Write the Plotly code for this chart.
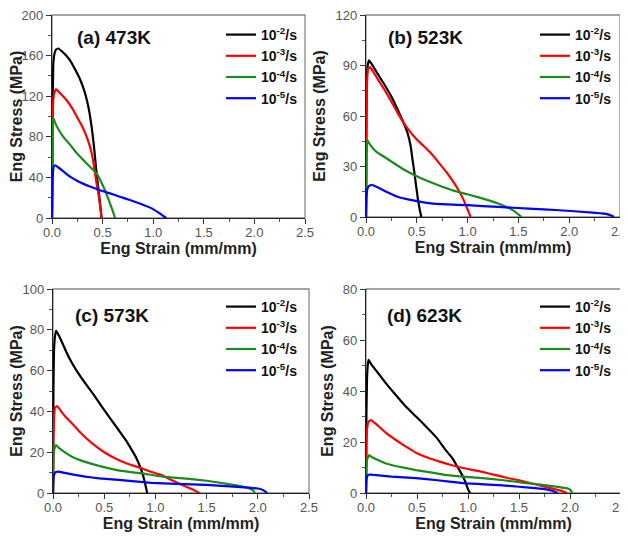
import plotly.graph_objects as go

# ---------------- data ----------------
rates = ["10<sup>-2</sup>/s", "10<sup>-3</sup>/s", "10<sup>-4</sup>/s", "10<sup>-5</sup>/s"]
colors = ["#000000", "#ff0000", "#1a8c1a", "#0000ff"]

# (a) 473K
a_x1 = [0, 0.005, 0.012, 0.025, 0.04, 0.063, 0.1, 0.14, 0.18, 0.23, 0.28, 0.32, 0.345, 0.37, 0.39, 0.41, 0.425, 0.44, 0.455, 0.468, 0.48, 0.49]
a_y1 = [0, 90, 150, 162, 166, 167, 164, 160, 155, 146, 136, 125, 116, 104, 91, 75, 60, 44, 32, 21, 10, 0]
a_x2 = [0, 0.005, 0.012, 0.025, 0.04, 0.07, 0.1, 0.145, 0.2, 0.245, 0.3, 0.343, 0.37, 0.392, 0.41, 0.425, 0.44, 0.458, 0.475, 0.49]
a_y2 = [0, 80, 115, 124, 127, 124, 121, 116, 108, 100, 90, 80, 72, 64, 54, 44, 34, 24, 12, 0]
a_x3 = [0, 0.004, 0.008, 0.013, 0.03, 0.06, 0.112, 0.18, 0.244, 0.31, 0.375, 0.44, 0.507, 0.54, 0.573, 0.6, 0.623]
a_y3 = [0, 70, 92, 99, 94, 88, 80, 72, 64, 57, 50.5, 44, 31, 23, 14.5, 7, 0]
a_x4 = [0, 0.005, 0.015, 0.03, 0.06, 0.1, 0.178, 0.27, 0.375, 0.47, 0.573, 0.67, 0.77, 0.88, 0.985, 1.05, 1.1, 1.13]
a_y4 = [0, 35, 50, 52, 50, 47, 40.7, 35.5, 31, 27.5, 24.3, 21, 17.7, 13.8, 9.5, 5.5, 2, 0]

# (b) 523K
b_x1 = [0, 0.004, 0.01, 0.02, 0.03, 0.06, 0.1, 0.178, 0.25, 0.31, 0.37, 0.41, 0.44, 0.458, 0.475, 0.49, 0.51, 0.53, 0.545]
b_y1 = [0, 60, 85, 91, 93, 90.5, 86.5, 79, 71.5, 64, 56, 49.7, 42, 34, 27, 20, 11, 4, 0]
b_x2 = [0, 0.004, 0.01, 0.02, 0.04, 0.08, 0.12, 0.178, 0.24, 0.31, 0.36, 0.41, 0.5, 0.57, 0.64, 0.72, 0.8, 0.87, 0.91, 0.95, 0.99, 1.03]
b_y2 = [0, 50, 80, 88, 89, 85.5, 81.5, 76, 69.5, 62, 57, 52.5, 46, 42, 37.8, 32, 26, 20, 16, 11.5, 6, 0]
b_x3 = [0, 0.004, 0.008, 0.015, 0.04, 0.08, 0.12, 0.178, 0.26, 0.35, 0.474, 0.6, 0.75, 0.9, 1.0, 1.1, 1.2, 1.3, 1.4, 1.46, 1.5, 1.53]
b_y3 = [0, 30, 42, 45.5, 43, 40, 38, 35.8, 32.5, 29, 25, 21.5, 18, 15, 13.5, 11.8, 10, 8, 5.5, 3.5, 1.5, 0]
b_x4 = [0, 0.005, 0.015, 0.03, 0.062, 0.12, 0.2, 0.31, 0.45, 0.64, 0.8, 1.0, 1.3, 1.6, 1.9, 2.2, 2.35, 2.42, 2.44]
b_y4 = [0, 12, 17, 18.5, 19, 17.5, 15, 12, 10, 8.1, 7.5, 7, 6, 5, 4, 2.8, 2, 0.8, 0]

# (c) 573K
c_x1 = [0, 0.004, 0.01, 0.02, 0.03, 0.06, 0.1, 0.152, 0.23, 0.315, 0.4, 0.477, 0.56, 0.64, 0.71, 0.77, 0.81, 0.85, 0.88, 0.9, 0.92]
c_y1 = [0, 50, 70, 77, 79.5, 77, 72.5, 66.8, 60, 53.8, 48, 42.3, 36.5, 30.9, 26, 21, 17.5, 12.9, 8.5, 4.5, 0]
c_x2 = [0, 0.004, 0.01, 0.02, 0.04, 0.08, 0.12, 0.185, 0.28, 0.38, 0.5, 0.64, 0.75, 0.866, 0.95, 1.06, 1.15, 1.25, 1.33, 1.4, 1.43]
c_y2 = [0, 25, 37, 42, 42.6, 40, 37.5, 34.2, 29, 24.4, 20, 16.2, 14, 12.1, 10.5, 8.8, 6.5, 4.2, 2.5, 0.8, 0]
c_x3 = [0, 0.004, 0.01, 0.03, 0.06, 0.1, 0.185, 0.3, 0.477, 0.65, 0.866, 1.06, 1.3, 1.5, 1.7, 1.85, 1.93, 1.96, 1.97]
c_y3 = [0, 15, 21, 23.5, 22, 20.5, 17.8, 15.5, 12.9, 11, 9.6, 8.1, 7, 6, 4.5, 3.2, 2, 1, 0]
c_x4 = [0, 0.005, 0.015, 0.03, 0.055, 0.1, 0.2, 0.315, 0.45, 0.64, 0.8, 0.96, 1.2, 1.5, 1.8, 2.0, 2.05, 2.08, 2.09]
c_y4 = [0, 7, 9.5, 10.3, 10.5, 10, 9, 8, 7.2, 6.4, 5.7, 5, 4.5, 4, 3, 2.2, 1.5, 0.5, 0]

# (d) 623K
d_x1 = [0, 0.004, 0.01, 0.02, 0.026, 0.05, 0.1, 0.196, 0.29, 0.39, 0.49, 0.59, 0.69, 0.78, 0.85, 0.915, 0.95, 0.98, 1.0, 1.02]
d_y1 = [0, 30, 45, 51, 52.2, 50.5, 48, 43, 38.5, 33.9, 30, 26, 21.8, 16.9, 13.5, 9, 6.5, 3.8, 1.5, 0]
d_x2 = [0, 0.004, 0.01, 0.025, 0.05, 0.1, 0.196, 0.3, 0.4, 0.49, 0.6, 0.7, 0.78, 0.87, 0.95, 1.05, 1.14, 1.25, 1.4, 1.5, 1.6, 1.75, 1.85, 1.93, 1.97]
d_y2 = [0, 18, 25, 28, 28.6, 27, 23.6, 20.6, 18, 15.8, 13.9, 12.6, 11.6, 10.6, 9.8, 9, 8.3, 7.2, 5.8, 5, 4, 2.5, 1.5, 0.7, 0]
d_x3 = [0, 0.004, 0.01, 0.03, 0.06, 0.1, 0.196, 0.3, 0.49, 0.65, 0.78, 0.95, 1.14, 1.35, 1.55, 1.75, 1.9, 1.98, 2.01, 2.02]
d_y3 = [0, 9, 13, 14.9, 14, 13.2, 11.6, 10.5, 9, 8, 7.1, 6.4, 5.8, 5, 4, 3.1, 2.3, 1.8, 1, 0]
d_x4 = [0, 0.004, 0.015, 0.03, 0.05, 0.1, 0.25, 0.49, 0.7, 0.98, 1.2, 1.4, 1.6, 1.75, 1.83, 1.88]
d_y4 = [0, 5, 6.8, 7.2, 7.2, 7, 6.4, 5.8, 5, 3.8, 3.3, 2.8, 2.1, 1.5, 0.8, 0]

panels = [
    dict(label="(a) 473K", xs=[a_x1, a_x2, a_x3, a_x4], ys=[a_y1, a_y2, a_y3, a_y4], ymax=200, dy=40),
    dict(label="(b) 523K", xs=[b_x1, b_x2, b_x3, b_x4], ys=[b_y1, b_y2, b_y3, b_y4], ymax=120, dy=30),
    dict(label="(c) 573K", xs=[c_x1, c_x2, c_x3, c_x4], ys=[c_y1, c_y2, c_y3, c_y4], ymax=100, dy=20),
    dict(label="(d) 623K", xs=[d_x1, d_x2, d_x3, d_x4], ys=[d_y1, d_y2, d_y3, d_y4], ymax=80, dy=20),
]

# ---------------- layout geometry (reference pixel coords; page has 8px body margin) ----------------
OFF = 8
W, H = 628 - OFF, 540 - OFF
xdoms = [(52, 305), (366, 620), (53, 309), (366, 621)]
ydoms = [(15, 218), (15, 217), (289, 493), (289, 493)]
labpos = [(114, 38), (425, 38), (112, 315), (424, 315)]
legpos = [(221, 19), (535, 19), (221, 291), (535, 291)]

def px(x):
    return (x - OFF) / W

def py(y):
    return 1 - (y - OFF) / H

FONT = "Liberation Sans, Arial, sans-serif"
fig = go.Figure()
layout = dict(width=W, height=H, margin=dict(l=0, r=0, t=0, b=0),
              paper_bgcolor="white", plot_bgcolor="white",
              font=dict(family=FONT, color="#222"), annotations=[], shapes=[])

for i, p in enumerate(panels):
    n = "" if i == 0 else str(i + 1)
    legname = "legend" if i == 0 else "legend" + str(i + 1)
    for k in range(4):
        fig.add_trace(go.Scatter(
            x=p["xs"][k], y=p["ys"][k], mode="lines", name="<b>" + rates[k] + "</b>",
            line=dict(color=colors[k], width=2.2, shape="spline", smoothing=0.3),
            xaxis="x" + n, yaxis="y" + n, legend=legname, showlegend=True))
    x0, x1 = xdoms[i]
    y0, y1 = ydoms[i]
    axcommon = dict(showline=True, linecolor="#222", linewidth=1.3, mirror=False,
                    ticks="outside", ticklen=5, tickwidth=1.2, tickcolor="#333",
                    showgrid=False, zeroline=False, automargin=False,
                    ticklabeloverflow="allow",
                    tickfont=dict(size=13, color="#555", family=FONT))
    layout["xaxis" + n] = dict(axcommon, domain=[px(x0), px(x1)], range=[0, 2.5],
                               dtick=0.5, tick0=0, tickformat=".1f",
                               anchor="y" + n, ticklabelstandoff=-3,
                               minor=dict(ticks="outside", ticklen=3, dtick=0.25, tickcolor="#555"),
                               title=dict(text="<b>Eng Strain (mm/mm)</b>", standoff=0,
                                          font=dict(size=16, color="#222")))
    layout["yaxis" + n] = dict(axcommon, domain=[py(y1), py(y0)], range=[0, p["ymax"]],
                               dtick=p["dy"], tick0=0, anchor="x" + n,
                               minor=dict(ticks="outside", ticklen=3, dtick=p["dy"] / 2, tickcolor="#555"),
                               title=dict(text="<b>Eng Stress (MPa)</b>", standoff=5,
                                          font=dict(size=16, color="#222")))
    layout["shapes"].append(dict(type="rect", xref="x" + n + " domain", yref="y" + n + " domain",
                                 x0=0, x1=1, y0=0, y1=1, line=dict(color="#888", width=1.3),
                                 layer="below"))
    lx, ly = labpos[i]
    layout["annotations"].append(dict(text="<b>" + p["label"] + "</b>", x=px(lx), y=py(ly),
                                      xref="paper", yref="paper", showarrow=False,
                                      xanchor="center", yanchor="middle",
                                      font=dict(size=19, color="#111")))
    gx, gy = legpos[i]
    layout[legname] = dict(x=px(gx), y=py(gy), xanchor="left", yanchor="top",
                           bgcolor="rgba(0,0,0,0)", borderwidth=0,
                           font=dict(size=14, color="#111", family=FONT),
                           itemwidth=30, tracegroupgap=0)

fig.update_layout(**layout)
fig.write_html("out.html")
